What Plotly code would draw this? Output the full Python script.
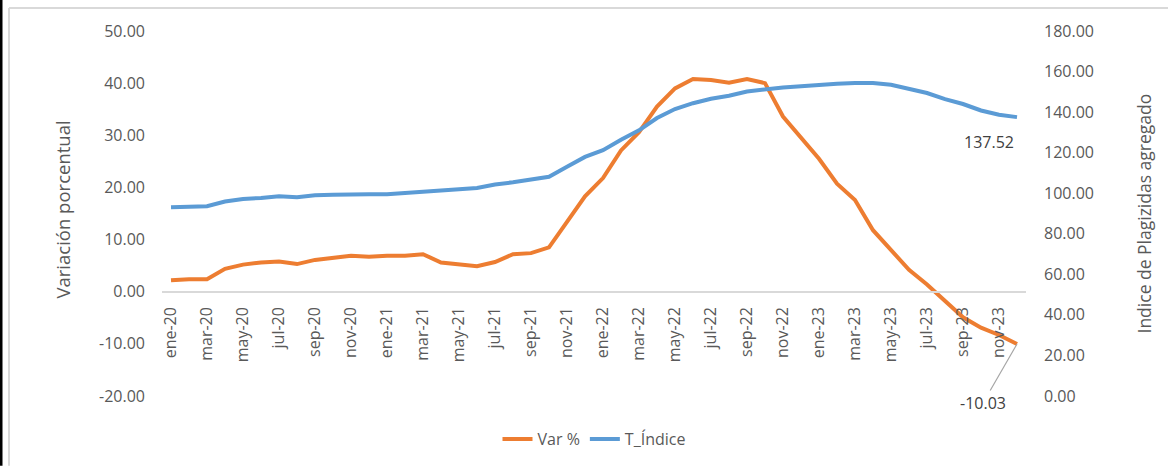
import plotly.graph_objects as go

month_names = ["ene", "feb", "mar", "abr", "may", "jun", "jul", "ago", "sep", "oct", "nov", "dic"]
years = ["20", "21", "22", "23"]
months = [f"{m}-{y}" for y in years for m in month_names]

var_pct = [2.2, 2.4, 2.4, 4.4, 5.2, 5.6, 5.8, 5.3, 6.1, 6.5, 6.9, 6.7,
           6.9, 6.9, 7.2, 5.6, 5.2, 4.9, 5.7, 7.2, 7.4, 8.5, 13.4, 18.3,
           21.8, 27.1, 30.6, 35.5, 39.0, 40.8, 40.6, 40.1, 40.8, 40.0, 33.6, 29.5,
           25.5, 20.7, 17.6, 11.8, 8.1, 4.2, 1.4, -1.8, -4.9, -6.9, -8.3, -10.03]

t_indice = [93.1, 93.5, 93.6, 95.9, 97.2, 97.7, 98.5, 98.0, 99.0, 99.2, 99.5, 99.5,
            99.5, 100.0, 100.5, 101.2, 102.0, 102.6, 104.3, 105.4, 106.7, 108.1, 113.0, 117.9,
            121.2, 126.4, 131.0, 137.1, 141.5, 144.4, 146.6, 148.1, 150.2, 151.3, 152.1, 152.8,
            153.5, 154.0, 154.3, 154.3, 153.5, 151.3, 149.4, 146.4, 144.0, 140.8, 138.7, 137.52]

tick_labels = months[::2]
left_ticks = [-20, -10, 0, 10, 20, 30, 40, 50]
right_ticks = [0, 20, 40, 60, 80, 100, 120, 140, 160, 180]

ORANGE = "#ED7D31"
BLUE = "#5B9BD5"
GRAY_TXT = "#595959"
FONT = "Open Sans"

fig = go.Figure()
fig.add_trace(go.Scatter(x=months, y=var_pct, name="Var %", mode="lines",
                         line=dict(color=ORANGE, width=4), yaxis="y"))
fig.add_trace(go.Scatter(x=months, y=t_indice, name="T_Índice", mode="lines",
                         line=dict(color=BLUE, width=4), yaxis="y2"))

L, R, T, B = 162, 142, 31, 70
W, H = 1168, 467
pw, ph = W - L - R, H - T - B

def px(x):
    return (x - L) / pw

def py(y):
    return (H - B - y) / ph

fig.update_layout(
    width=W, height=H,
    margin=dict(l=L, r=R, t=T, b=B, pad=0),
    paper_bgcolor="white", plot_bgcolor="white",
    font=dict(family=FONT, size=16, color=GRAY_TXT),
    showlegend=True,
    legend=dict(orientation="h", x=0.5, xanchor="center", y=py(439), yanchor="middle",
                font=dict(size=16, color=GRAY_TXT), bgcolor="rgba(0,0,0,0)"),
    xaxis=dict(type="category", categoryorder="array", categoryarray=months,
               range=[-0.5, len(months) - 0.5],
               anchor="free", position=20 / 70,
               showline=True, linecolor="#d9d9d9", linewidth=2,
               showgrid=False, zeroline=False, ticks="",
               tickmode="array", tickvals=tick_labels, ticktext=tick_labels,
               tickangle=-90, ticklabelstandoff=8,
               tickfont=dict(size=16, color=GRAY_TXT)),
    yaxis=dict(range=[-20, 50], tickmode="array", tickvals=left_ticks,
               ticktext=[f"{v:.2f}" for v in left_ticks],
               showgrid=False, zeroline=False, showline=False,
               ticks="", ticklabelstandoff=16,
               tickfont=dict(size=16, color=GRAY_TXT)),
    yaxis2=dict(range=[0, 180], tickmode="array", tickvals=right_ticks,
                ticktext=[f"{v:.2f}" for v in right_ticks],
                overlaying="y", side="right",
                showgrid=False, zeroline=False, showline=False,
                ticks="", ticklabelstandoff=17,
                tickfont=dict(size=16, color=GRAY_TXT)),
    annotations=[
        dict(text="Variación porcentual", xref="paper", yref="paper",
             x=px(63), y=py(210), textangle=-90, showarrow=False,
             font=dict(size=18.5, color=GRAY_TXT), xanchor="center", yanchor="middle"),
        dict(text="Indice de Plagizidas agregado", xref="paper", yref="paper",
             x=px(1143), y=py(214), textangle=-90, showarrow=False,
             font=dict(size=17.5, color=GRAY_TXT), xanchor="center", yanchor="middle"),
        dict(text=f"{t_indice[-1]:.2f}", x=months[-1], y=t_indice[-1], xref="x", yref="y2",
             showarrow=False, xanchor="right", yanchor="middle", xshift=-1, yshift=-25,
             font=dict(size=16, color="#404040")),
        dict(text=f"{var_pct[-1]:.2f}", x=months[-1], y=var_pct[-1], xref="x", yref="y",
             showarrow=True, arrowhead=0, arrowwidth=1.2, arrowcolor="#a6a6a6",
             ax=-34, ay=59, standoff=0,
             font=dict(size=16, color="#404040")),
    ],
    shapes=[
        dict(type="rect", xref="paper", yref="paper", x0=px(0), x1=px(2.5), y0=py(H), y1=py(0),
             fillcolor="black", line=dict(width=0), layer="above"),
        dict(type="line", xref="paper", yref="paper", x0=px(9), x1=px(9), y0=py(H), y1=py(8),
             line=dict(color="#d9d9d9", width=2)),
        dict(type="line", xref="paper", yref="paper", x0=px(9), x1=px(W), y0=py(8), y1=py(8),
             line=dict(color="#d9d9d9", width=2)),
    ],
)

fig.write_html("out.html", config={"displayModeBar": False},
               post_script="document.body.style.margin='0';document.body.style.overflow='hidden';")
